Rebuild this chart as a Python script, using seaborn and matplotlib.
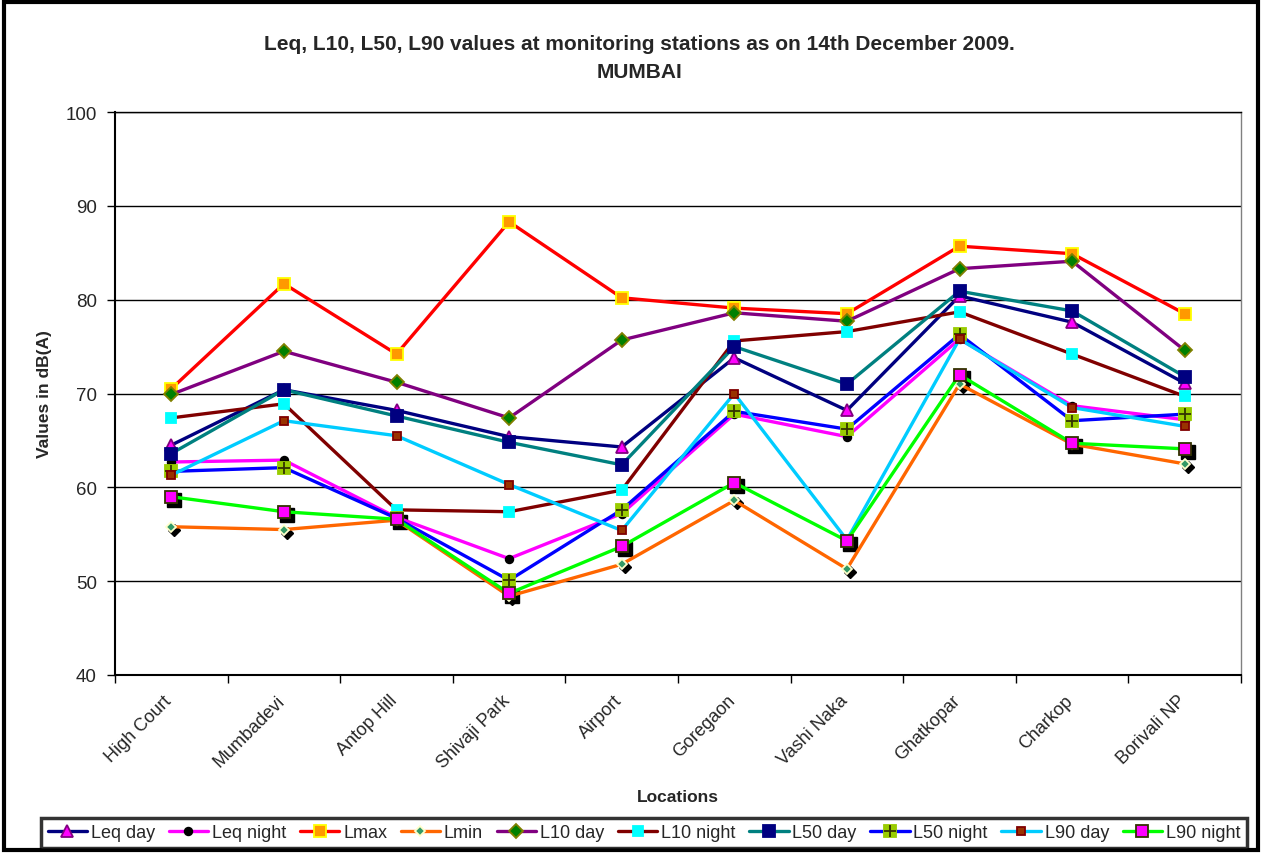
import numpy as np
import matplotlib
matplotlib.use("Agg")
import matplotlib.pyplot as plt
import matplotlib.transforms as mtransforms
from matplotlib.legend_handler import HandlerTuple
from matplotlib.patches import Rectangle
import seaborn as sns

# ---------------- data ----------------
locations = ["High Court", "Mumbadevi", "Antop Hill", "Shivaji Park", "Airport",
             "Goregaon", "Vashi Naka", "Ghatkopar", "Charkop", "Borivali NP"]

leq_day = [64.5, 70.4, 68.2, 65.4, 64.3, 73.8, 68.2, 80.4, 77.6, 71.1]
leq_night = [62.7, 62.9, 56.8, 52.4, 57.2, 67.8, 65.4, 75.8, 68.7, 67.2]
lmax = [70.5, 81.7, 74.2, 88.3, 80.2, 79.1, 78.5, 85.7, 84.9, 78.5]
lmin = [55.8, 55.5, 56.5, 48.4, 51.8, 58.6, 51.3, 71.0, 64.6, 62.5]
l10_day = [69.9, 74.5, 71.2, 67.4, 75.7, 78.6, 77.7, 83.3, 84.1, 74.6]
l10_night = [67.4, 68.9, 57.6, 57.4, 59.7, 75.6, 76.6, 78.7, 74.2, 69.7]
l50_day = [63.6, 70.4, 67.6, 64.8, 62.4, 75.0, 71.0, 80.9, 78.8, 71.8]
l50_night = [61.7, 62.1, 56.7, 50.1, 57.6, 68.1, 66.2, 76.3, 67.1, 67.8]
l90_day = [61.3, 67.1, 65.5, 60.3, 55.4, 70.0, 54.4, 75.8, 68.5, 66.5]
l90_night = [59.0, 57.4, 56.6, 48.7, 53.7, 60.5, 54.3, 72.0, 64.7, 64.1]

# ---------------- style ----------------
sns.set_theme(style="white")
plt.rcParams["font.family"] = ["Liberation Sans", "DejaVu Sans"]

fig = plt.figure(figsize=(12.62, 8.54), dpi=100)
ax = fig.add_axes([115 / 1262, 1 - 676 / 854, (1241 - 115) / 1262, (676 - 113) / 854])

x = np.arange(len(locations))

series = [
    # label, values, line colour, marker, size, face, edge
    ("Leq day", leq_day, "#000080", "^", 9, "#FF00FF", "#800080"),
    ("Leq night", leq_night, "#FF00FF", "o", 5.5, "black", "black"),
    ("Lmax", lmax, "#FF0000", "s", 8, "#FF9900", "#FFFF00"),
    ("Lmin", lmin, "#FF6600", "D", 5, "#339966", "#FFFFCC"),
    ("L10 day", l10_day, "#800080", "D", 7, "#008000", "#808000"),
    ("L10 night", l10_night, "#800000", "s", 6.5, "#00FFFF", "#00FFFF"),
    ("L50 day", l50_day, "#008080", "s", 9, "#000080", "#000080"),
    ("L50 night", l50_night, "#0000FF", "s", 8.5, "#99CC00", "#99CC00"),
    ("L90 day", l90_day, "#00CCFF", "s", 5.5, "#993300", "#800000"),
    ("L90 night", l90_night, "#00FF00", "s", 9, "#FF00FF", "#333300"),
]

# excel-like drop shadow for a couple of marker sets
shadow = mtransforms.offset_copy(ax.transData, fig=fig, x=3, y=-3, units="dots")

handles = []
for label, vals, lc, mk, ms, fc, ec in series:
    if label in ("Lmin", "L90 night"):
        ax.plot(x, vals, linestyle="none", marker=mk, markersize=ms + 1,
                color="black", transform=shadow, zorder=2)
    sns.lineplot(x=x, y=vals, ax=ax, color=lc, linewidth=2.4, marker=mk,
                 markersize=ms, markerfacecolor=fc, markeredgecolor=ec,
                 markeredgewidth=1.3, label=label, zorder=3)
    h = ax.get_lines()[-1]
    if label == "L50 night":
        plus = ax.plot(x, vals, linestyle="none", marker="+", markersize=8,
                       color="#333300", markeredgewidth=1.3, zorder=3)[0]
        handles.append((h, plus))
    else:
        handles.append(h)
if ax.get_legend() is not None:
    ax.get_legend().remove()

# ---------------- axes ----------------
ax.set_xlim(-0.5, len(locations) - 0.5)
ax.set_ylim(40, 100)
ax.set_yticks(np.arange(40, 101, 10))
ax.set_xticks(x)
ax.set_xticklabels(locations, rotation=45, ha="right", rotation_mode="anchor", fontsize=13)
ax.set_xticks(np.arange(-0.5, len(locations)), minor=True)
ax.tick_params(axis="x", which="major", length=0, pad=12)
ax.tick_params(axis="x", which="minor", length=6, width=1, color="black", direction="out", bottom=True)
ax.tick_params(axis="y", length=6, width=1, color="black", direction="out", left=True, labelsize=13.5, pad=7)
ax.yaxis.grid(True, color="black", linewidth=1)
ax.xaxis.grid(False)
ax.set_axisbelow(True)

# nudge the slanted labels a bit to the left, like excel does
shift = mtransforms.ScaledTranslation(-8 / 100, 0, fig.dpi_scale_trans)
for lab in ax.get_xticklabels():
    lab.set_transform(lab.get_transform() + shift)

for s in ["left", "bottom"]:
    ax.spines[s].set_color("black")
    ax.spines[s].set_linewidth(1.5)
ax.spines["right"].set_color("#808080")
ax.spines["right"].set_linewidth(1)
ax.spines["top"].set_color("black")
ax.spines["top"].set_linewidth(1)

ax.set_ylabel("Values in dB(A)", fontsize=12.5, fontweight="bold", labelpad=10)
ax.set_xlabel("Locations", fontsize=12.5, fontweight="bold")
ax.xaxis.set_label_coords(0.5, -(790 - 676) / 563)

fig.text(0.507, 1 - 45 / 854, "Leq, L10, L50, L90 values at monitoring stations as on 14th December 2009.",
         ha="center", va="center", fontsize=15, fontweight="bold")
fig.text(0.507, 1 - 72 / 854, "MUMBAI", ha="center", va="center", fontsize=15,
         fontweight="bold")

leg = fig.legend(handles, [s[0] for s in series], ncol=10, loc="lower center",
                 bbox_to_anchor=(0.5103, 0.002), frameon=True, fancybox=False,
                 fontsize=13, handlelength=2.2, handletextpad=0.2, columnspacing=0.75,
                 borderpad=0.35, borderaxespad=0.2,
                 handler_map={tuple: HandlerTuple(ndivide=1, pad=0)})
leg.get_frame().set_edgecolor("black")
leg.get_frame().set_linewidth(2.5)

# outer chart border
fig.patches.append(Rectangle((0.003, 0.004), 0.994, 0.992, transform=fig.transFigure,
                             fill=False, edgecolor="black", linewidth=3))

fig.savefig("out.png", dpi=100, facecolor="white")
